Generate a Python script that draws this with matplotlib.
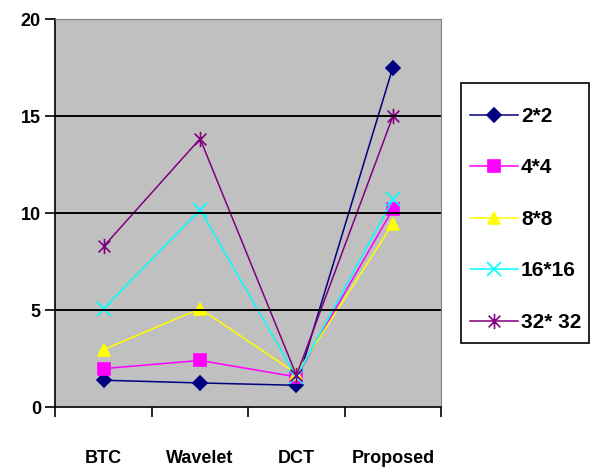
import matplotlib
matplotlib.use("Agg")
import matplotlib.pyplot as plt
from matplotlib.path import Path
from matplotlib.patches import Rectangle

# méthodes comparées et résultats par taille de bloc
methodes = ["BTC", "Wavelet", "DCT", "Proposed"]
tailles = ["2*2", "4*4", "8*8", "16*16", "32* 32"]
val_2x2 = [1.38, 1.24, 1.12, 17.5]
val_4x4 = [1.98, 2.4, 1.55, 10.2]
val_8x8 = [2.96, 5.07, 1.72, 9.45]
val_16x16 = [5.07, 10.17, 1.55, 10.7]
val_32x32 = [8.28, 13.83, 1.63, 14.98]

# marqueur étoile (x + barre verticale)
etoile = Path([(-1, -1), (1, 1), (-1, 1), (1, -1), (0, -1.3), (0, 1.3)],
              [Path.MOVETO, Path.LINETO, Path.MOVETO, Path.LINETO,
               Path.MOVETO, Path.LINETO])

series = [
    (val_2x2, "#000080", "D", 7),
    (val_4x4, "#FF00FF", "s", 8),
    (val_8x8, "#FFFF00", "^", 9),
    (val_16x16, "#00FFFF", "x", 10),
    (val_32x32, "#800080", etoile, 11),
]

plt.rcParams["font.family"] = ["Liberation Sans", "DejaVu Sans"]
fig = plt.figure(figsize=(5.98, 4.72), dpi=100)
ax = fig.add_axes([0.0928, 0.1377, 0.6447, 0.822])
ax.set_facecolor("#C0C0C0")

x = [0.5, 1.5, 2.5, 3.5]
for (vals, couleur, marq, taille), nom in zip(series, tailles):
    ax.plot(x, vals, color=couleur, marker=marq, markersize=taille,
            linewidth=1.1, label=nom, markeredgewidth=1.2)

ax.set_xlim(0, 4)
ax.set_ylim(0, 20)
ax.set_yticks([0, 5, 10, 15, 20])
ax.set_xticks([0, 1, 2, 3, 4])
ax.set_xticklabels([])
for xi, m in zip(x, methodes):
    ax.text(xi, -2.65, m, ha="center", va="center", fontsize=13,
            fontweight="bold")
for yv in [5, 10, 15]:
    ax.axhline(yv, color="black", linewidth=1.4)
ax.tick_params(axis="y", labelsize=13, length=7, width=1.2, direction="out")
ax.tick_params(axis="x", length=7, width=1.2, direction="out")
for lab in ax.get_yticklabels():
    lab.set_fontweight("bold")

for cote in ["top", "right"]:
    ax.spines[cote].set_color("#808080")
for cote in ["left", "bottom"]:
    ax.spines[cote].set_linewidth(1.2)

# cadre de la légende
fig.patches.append(Rectangle((461 / 598, 1 - 343 / 472), 128 / 598, 260 / 472,
                             transform=fig.transFigure, facecolor="white",
                             edgecolor="black", linewidth=1.2, zorder=0))
fig.legend(loc="upper left", bbox_to_anchor=(0.786, 0.7735),
           prop={"size": 15, "weight": "bold"}, frameon=False,
           borderaxespad=0, borderpad=0, labelspacing=1.56,
           handlelength=2.3, handletextpad=0.15)

fig.savefig("out.png", dpi=100)
